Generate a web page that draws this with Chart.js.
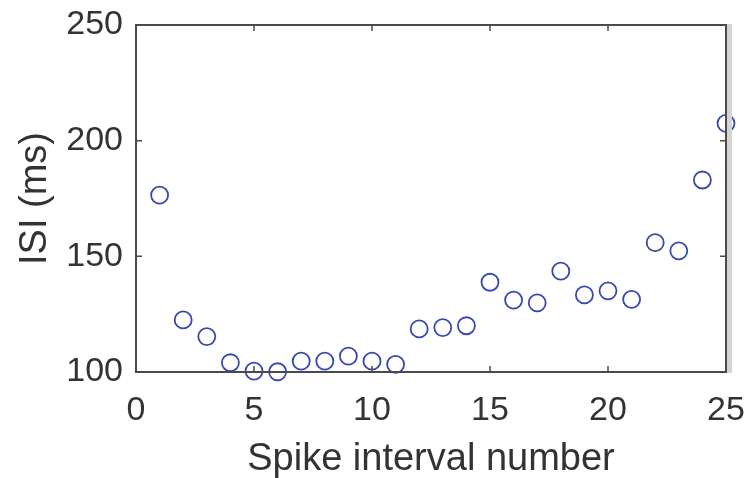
<!DOCTYPE html>
<html>
<head>
<meta charset="utf-8">
<script src="https://cdn.jsdelivr.net/npm/chart.js@4"></script>
<style>
  html, body { margin: 0; padding: 0; background: #fff; }
  #wrap { width: 753px; height: 478px; }
</style>
</head>
<body>
<div id="wrap"><canvas id="c"></canvas></div>
<script>
// ISI per spike interval
const intervalNumbers = [1, 2, 3, 4, 5, 6, 7, 8, 9, 10, 11, 12, 13, 14, 15, 16, 17, 18, 19, 20, 21, 22, 23, 24, 25];
const isiValues = [176.5, 122.5, 115.3, 104, 100.4, 100.1, 104.7, 104.7, 106.9, 104.7, 103.3, 118.6, 119.2, 120, 138.8,
  131.1, 129.9, 143.6, 133.3, 135.1, 131.4, 155.9, 152.4, 183, 207.5];
const xTicks = [0, 5, 10, 15, 20, 25];
const yTicks = [100, 150, 200, 250];

const AXIS = '#4a4a4a';
const MARK = '#3848ae';
const TEXT = '#333';
const FONT = 'Liberation Sans, Arial, sans-serif';

// box round the plot with inward ticks on all four sides
const boxPlugin = {
  id: 'box',
  afterDatasetsDraw(chart) {
    const { ctx, chartArea: a, scales: { x, y } } = chart;
    ctx.save();
    // faint shadow strip on the right edge
    ctx.fillStyle = '#d4d4d4';
    ctx.fillRect(a.right + 1, a.top - 1, 5, a.bottom - a.top + 2);
    ctx.strokeStyle = AXIS;
    ctx.lineWidth = 2;
    ctx.strokeRect(a.left, a.top, a.right - a.left, a.bottom - a.top);
    ctx.lineWidth = 1.5;
    ctx.beginPath();
    xTicks.forEach(v => {
      const px = x.getPixelForValue(v);
      ctx.moveTo(px, a.bottom); ctx.lineTo(px, a.bottom - 6);
      ctx.moveTo(px, a.top); ctx.lineTo(px, a.top + 6);
    });
    yTicks.forEach(v => {
      const py = y.getPixelForValue(v);
      ctx.moveTo(a.left, py); ctx.lineTo(a.left + 6, py);
      ctx.moveTo(a.right, py); ctx.lineTo(a.right - 6, py);
    });
    ctx.stroke();
    ctx.restore();
  }
};

new Chart(document.getElementById('c'), {
  type: 'scatter',
  data: {
    datasets: [{
      data: intervalNumbers.map((n, i) => ({ x: n, y: isiValues[i] })),
      pointStyle: 'circle',
      pointRadius: 8.5,
      pointBorderWidth: 1.8,
      borderColor: MARK,
      backgroundColor: 'rgba(0,0,0,0)',
      clip: false,
    }],
  },
  options: {
    responsive: true,
    maintainAspectRatio: false,
    animation: false,
    layout: { padding: { top: 25, right: 27, left: 0, bottom: 0 } },
    plugins: { legend: { display: false }, tooltip: { enabled: false } },
    scales: {
      x: {
        type: 'linear', min: 0, max: 25,
        afterBuildTicks: (s) => { s.ticks = xTicks.map(v => ({ value: v })); },
        afterFit: (s) => { s.height = 106; s.paddingLeft = 0; s.paddingRight = 0; },
        grid: { display: false, drawTicks: false },
        border: { display: false },
        ticks: { color: TEXT, font: { family: FONT, size: 34 }, padding: 18, maxRotation: 0 },
        title: { display: true, text: 'Spike interval number', color: TEXT,
          font: { family: FONT, size: 38, lineHeight: 1 }, padding: { top: 0, bottom: -1 } },
      },
      y: {
        type: 'linear', min: 100, max: 250,
        afterBuildTicks: (s) => { s.ticks = yTicks.map(v => ({ value: v })); },
        afterFit: (s) => { s.width = 136; s.paddingTop = 0; s.paddingBottom = 0; },
        grid: { display: false, drawTicks: false },
        border: { display: false },
        ticks: { color: TEXT, font: { family: FONT, size: 34 }, padding: 13 },
        title: { display: true, text: 'ISI (ms)', color: TEXT,
          font: { family: FONT, size: 38, lineHeight: 1 }, padding: { top: 17, bottom: 0 } },
      },
    },
  },
  plugins: [boxPlugin],
});
</script>
</body>
</html>
